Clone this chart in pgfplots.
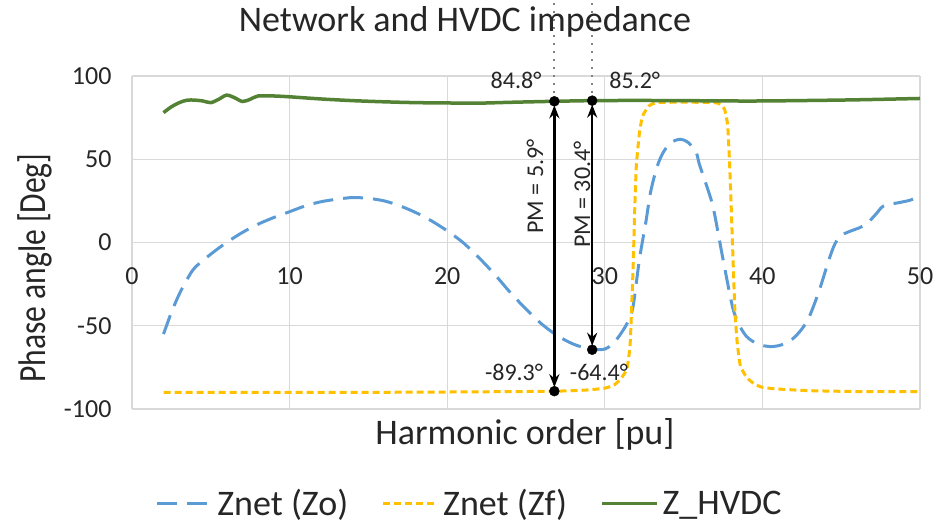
\documentclass[border=0pt]{standalone}
\usepackage{fontspec}
\setmainfont{Carlito}
\newfontfamily\ylabfont{Carlito}[FakeStretch=0.82]
\usepackage{pgfplots}
\pgfplotsset{compat=1.18}
\usetikzlibrary{arrows.meta}
\definecolor{cblue}{HTML}{5B9BD5}
\definecolor{cyellow}{HTML}{FFC000}
\definecolor{cgreen}{HTML}{548235}
\definecolor{cgrid}{HTML}{D9D9D9}
\begin{document}
\begin{tikzpicture}
\path[use as bounding box] (-132pt,-118pt) rectangle (810pt,409pt);
\begin{axis}[
  at={(0pt,0pt)}, anchor=south west,
  scale only axis, width=788pt, height=333pt,
  xmin=0, xmax=50, ymin=-100, ymax=100,
  xtick={0,10,...,50}, ytick={-100,-50,...,100},
  grid=major, major grid style={draw=cgrid, line width=1.2pt},
  axis line style={draw=none},
  major tick length=0pt,
  /pgf/number format/assume math mode=true,
  ticklabel style={font=\fontsize{26}{30}\selectfont, text=black!85},
  xticklabel style={anchor=north, yshift=145pt},
  yticklabel style={anchor=east, xshift=-17pt},
  clip=false,
  title={Network and HVDC impedance},
  title style={font=\fontsize{36}{42}\selectfont, anchor=base, at={(axis description cs:0.4226,1.1171)}, text=black!85},
  xlabel={Harmonic order [pu]},
  xlabel style={font=\fontsize{36}{42}\selectfont, anchor=base, at={(axis description cs:0.4987,-0.1051)}, text=black!85},
  ylabel={Phase angle [Deg]},
  ylabel style={font=\ylabfont\fontsize{38.5}{44}\selectfont, rotate=0, anchor=base, at={(axis description cs:-0.110,0.423)}, text=black!85},
  legend columns=3,
  legend style={draw=none, fill=none, font=\fontsize{36}{40}\selectfont, text=black!85,
    at={(axis description cs:0.427,-0.284)}, anchor=center,
    nodes={inner sep=0pt},
    /tikz/every odd column/.append style={column sep=4pt},
    /tikz/every even column/.append style={column sep=33pt}},
  legend image code/.code={\draw[#1] (0pt,0pt) -- (55pt,0pt);},
]
% Znet (Zo)
\addplot[cblue, line width=3pt, dash pattern=on 20pt off 10pt, smooth, tension=0.5] coordinates {
(2,-55) (2.5,-42) (3,-31) (3.5,-22) (4,-15) (5,-7) (6,0) (7,6) (8,11) (9,15)
(10,18.5) (11,22) (12,24.5) (13,26) (14,27) (15,26.5) (16,25) (17,22) (18,18) (19,13)
(20,7) (21,0) (22,-9) (23,-19) (24,-30) (25,-40) (26,-49) (27,-56) (28,-61) (29,-64)
(29.5,-64.4) (30,-64) (30.5,-61) (31,-55) (31.5,-47) (31.8,-38) (32.2,-10) (32.6,12)
(32.9,30) (33.3,45) (33.7,54) (34.2,60) (34.8,62) (35.3,60) (35.8,54) (36.0,47)
(36.5,33) (36.9,20) (37.5,-10) (38.1,-38.5) (38.5,-49) (39.0,-56.5) (39.7,-61)
(40.5,-62.5) (41.2,-61.5) (41.9,-58) (42.5,-52) (43.0,-44) (43.6,-29) (44.1,-14)
(44.5,-3) (44.9,3.6) (45.5,6.5) (46.2,9) (46.6,11) (47.2,17) (47.7,22) (48.7,24)
(49.4,25.5) (50,28)};
\addlegendentry{Znet (Zo)}
% Znet (Zf)
\addplot[cyellow, line width=3pt, dash pattern=on 7pt off 4pt, smooth, tension=0.3] coordinates {
(2,-90) (5,-90) (10,-90) (15,-90) (20,-89.8) (25,-89.5) (26.8,-89.3) (28,-89)
(29,-88.5) (30.0,-87.5) (30.6,-85.5) (31.0,-82) (31.4,-76) (31.6,-62) (31.7,-40)
(31.8,-14) (31.9,20) (32.0,46) (32.2,66) (32.4,76) (32.8,82) (33.3,84) (35,84.3)
(37.0,84) (37.3,83) (37.6,80) (37.8,70) (37.95,40) (38.1,0) (38.25,-40) (38.4,-60)
(38.6,-74) (39.0,-81) (39.5,-85) (40,-87) (41,-88) (43,-89) (46,-89.5) (50,-89.5)};
\addlegendentry{Znet (Zf)}
% Z_HVDC
\addplot[cgreen, line width=3.5pt, smooth, tension=0.5] coordinates {
(2,78) (2.5,81.5) (3,84) (3.5,85.5) (4,85.5) (4.5,85) (5,84) (5.5,86) (6,88.5)
(6.5,87) (7,84.7) (7.5,86) (8,88) (9,88) (10,87.5) (12,86.2) (14,85.2) (16,84.5)
(18,84) (20,83.8) (22,83.7) (24,84.2) (26.8,84.8) (29.2,85.2) (32,85.3) (35,85.2)
(38,85) (40,85) (43,85.3) (46,85.7) (50,86.5)};
\addlegendentry{Z\_HVDC}
% annotations
\addplot[gray, line width=2pt, dash pattern=on 2pt off 6pt, forget plot] coordinates {(26.8,84.8) (26.8,146)};
\addplot[gray, line width=2pt, dash pattern=on 2pt off 6pt, forget plot] coordinates {(29.2,85.2) (29.2,146)};
\addplot[black, line width=2.5pt, {Stealth[length=13pt,width=10pt]}-{Stealth[length=13pt,width=10pt]}, shorten <=4pt, shorten >=4pt, forget plot] coordinates {(26.8,-89.3) (26.8,84.8)};
\addplot[black, line width=2.5pt, {Stealth[length=13pt,width=10pt]}-{Stealth[length=13pt,width=10pt]}, shorten <=4pt, shorten >=4pt, forget plot] coordinates {(29.2,-64.4) (29.2,85.2)};
\addplot[only marks, mark=*, mark size=5pt, black, forget plot] coordinates {(26.8,-89.3) (26.8,84.8) (29.2,-64.4) (29.2,85.2)};
\node[font=\fontsize{24}{28}\selectfont, text=black!85] at (axis cs:24.37,97.3) {84.8°};
\node[font=\fontsize{24}{28}\selectfont, text=black!85] at (axis cs:31.9,97.3) {85.2°};
\node[font=\fontsize{24}{28}\selectfont, text=black!85] at (axis cs:24.24,-78) {-89.3°};
\node[font=\fontsize{24}{28}\selectfont, text=black!85] at (axis cs:29.63,-78) {-64.4°};
\node[font=\fontsize{24}{28}\selectfont, text=black!85, rotate=90] at (axis cs:25.57,33.6) {PM = 5.9°};
\node[font=\fontsize{24}{28}\selectfont, text=black!85, rotate=90] at (axis cs:28.55,28.8) {PM = 30.4°};
\end{axis}
\end{tikzpicture}
\end{document}
